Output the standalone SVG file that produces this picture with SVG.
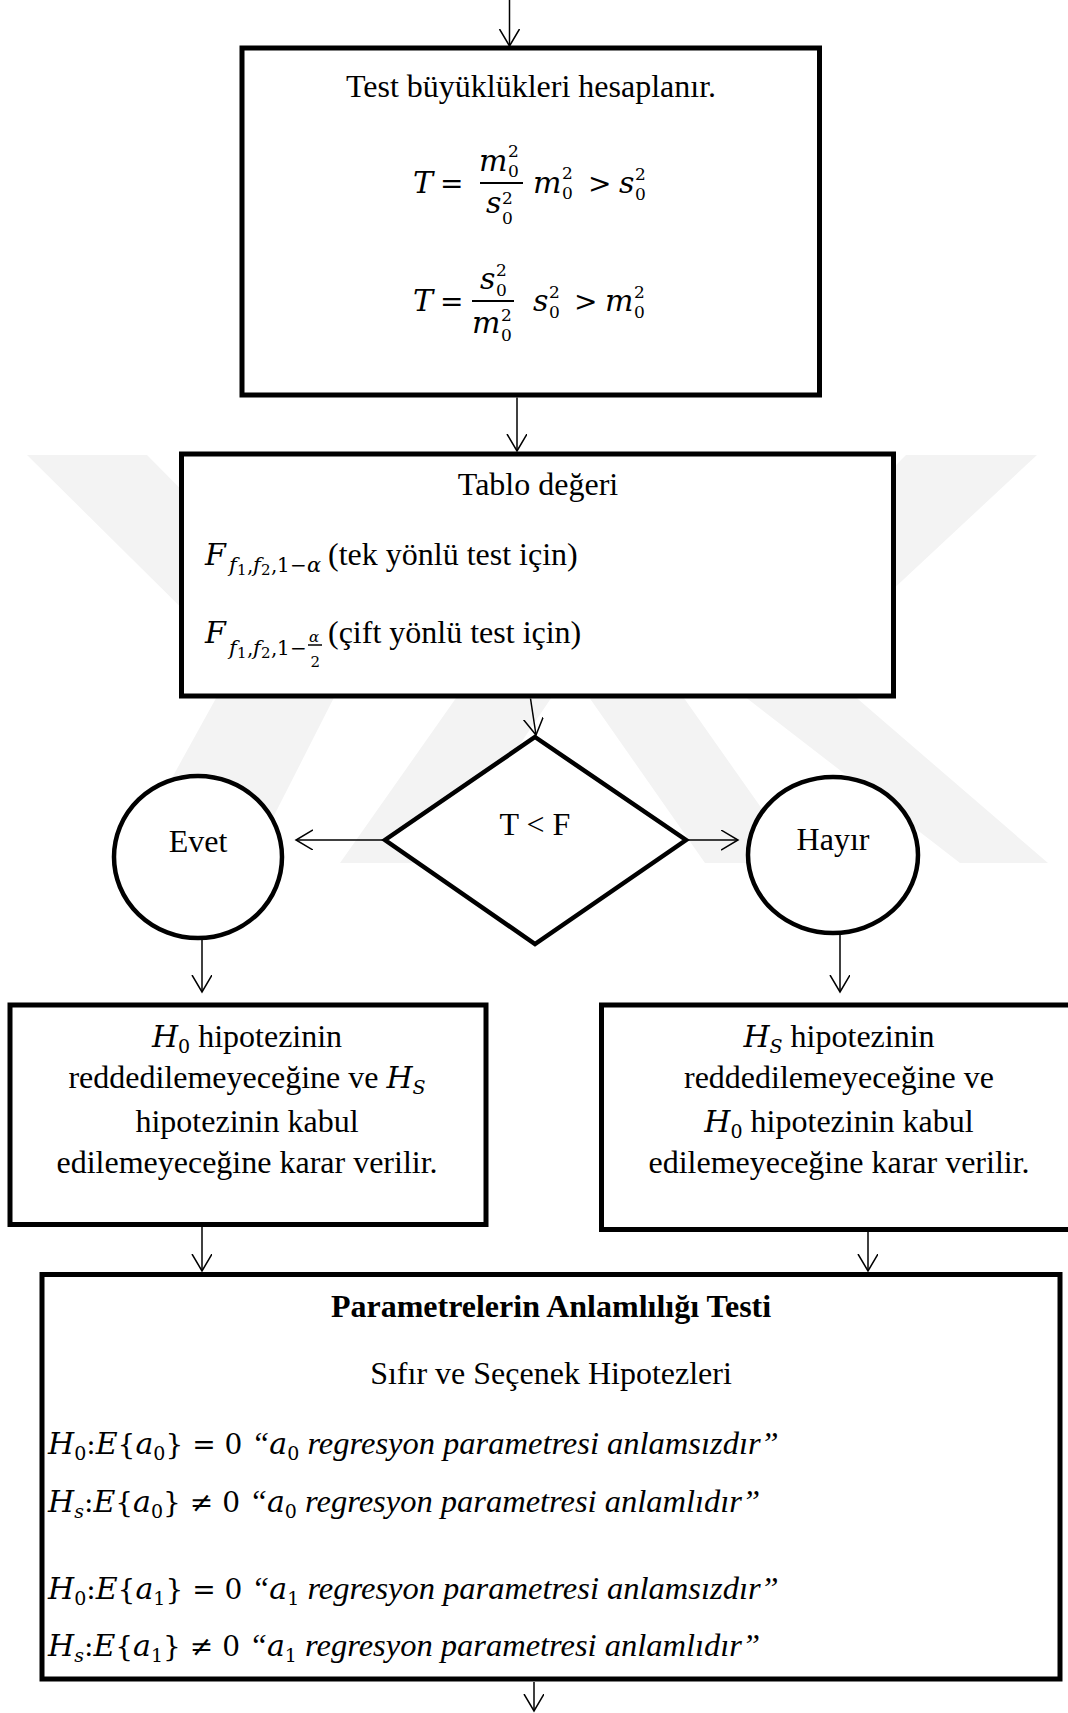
<svg xmlns="http://www.w3.org/2000/svg" width="1068" height="1713" viewBox="0 0 1068 1713">
  <style>
    .box { fill: #fff; stroke: #000; stroke-width: 5; }
    .shape { fill: #fff; stroke: #000; stroke-width: 4.5; }
    .conn { fill: none; stroke: #000; stroke-width: 1.5; marker-end: url(#ah); }
    .wm { fill: #f3f3f3; stroke: none; }
    .t { font-family: "Liberation Serif", "Times New Roman", serif; font-size: 32px; fill: #000; }
    .b { font-weight: bold; }
    .c { text-anchor: middle; }
    .ti { font-family: "Liberation Serif", "Times New Roman", serif; font-style: italic; font-size: 32.5px; }
    .mi { font-family: "DejaVu Serif", serif; font-style: italic; font-size: 30px; fill: #000; }
    .mn { font-family: "DejaVu Serif", serif; font-style: normal; font-size: 28px; fill: #000; }
    .sc { font-family: "DejaVu Serif", serif; font-style: normal; font-size: 19px; fill: #000; }
    .sp { font-family: "DejaVu Serif", serif; font-style: normal; font-size: 17px; fill: #000; }
    .si { font-family: "DejaVu Serif", serif; font-style: italic; font-size: 19px; fill: #000; }
    .ss { font-family: "DejaVu Serif", serif; font-style: normal; font-size: 20px; fill: #000; }
    .ssi { font-family: "DejaVu Serif", serif; font-style: italic; font-size: 21px; fill: #000; }
    .sss { font-family: "DejaVu Serif", serif; font-style: normal; font-size: 15px; fill: #000; }
    .ssi2 { font-family: "DejaVu Serif", serif; font-style: italic; font-size: 15px; fill: #000; }
  </style>
  <defs>
    <marker id="ah" markerUnits="userSpaceOnUse" markerWidth="20" markerHeight="22" refX="17" refY="10" orient="auto">
      <path d="M0,0 L17,10 L0,20" fill="none" stroke="#000" stroke-width="1.5"/>
    </marker>
  </defs>

  <rect x="0" y="0" width="1068" height="1713" fill="#fff"/>

  <!-- faint background emblem -->
  <g id="emblem">
    <polygon class="wm" points="27,455 147,455 352,662 250,863 125,863 236,662"/>
    <polygon class="wm" points="906,455 1037,455 815,662 1048,863 960,863 700,662"/>
    <polygon class="wm" points="340,863 525,600 615,600 800,863 705,863 570,670 440,863"/>
  </g>

  <!-- connectors -->
  <g id="connectors">
    <line class="conn" x1="509.5" y1="0" x2="509.5" y2="46"/>
    <line class="conn" x1="517" y1="397.5" x2="517" y2="451"/>
    <line class="conn" x1="530.5" y1="698.5" x2="536" y2="735"/>
    <line class="conn" x1="385" y1="840" x2="296" y2="840"/>
    <line class="conn" x1="686" y1="840" x2="738" y2="840"/>
    <line class="conn" x1="202" y1="938" x2="202" y2="992"/>
    <line class="conn" x1="840" y1="933" x2="840" y2="992"/>
    <line class="conn" x1="202" y1="1227" x2="202" y2="1271"/>
    <line class="conn" x1="868" y1="1232" x2="868" y2="1271"/>
    <line class="conn" x1="534" y1="1682" x2="534" y2="1711"/>
  </g>

  <!-- test statistics -->
  <g id="n-test">
    <rect class="box" x="242" y="48" width="577.5" height="347"/>
    <text class="t c" x="531" y="97">Test büyüklükleri hesaplanır.</text>
    <!-- T = m0^2 / s0^2  when m0^2 > s0^2 -->
    <text class="mi" x="413" y="192.5">T</text>
    <text class="mn" x="440" y="192.5">=</text>
    <text><tspan class="mi" x="479" y="171">m</tspan><tspan class="sp" x="508" y="157">2</tspan><tspan class="sp" x="508" y="177">0</tspan></text>
    <line x1="480" y1="183" x2="523" y2="183" stroke="#000" stroke-width="2"/>
    <text><tspan class="mi" x="486" y="213">s</tspan><tspan class="sp" x="502" y="204">2</tspan><tspan class="sp" x="502" y="224">0</tspan></text>
    <text><tspan class="mi" x="533" y="192.5">m</tspan><tspan class="sp" x="562" y="179">2</tspan><tspan class="sp" x="562" y="199">0</tspan><tspan class="mn" x="588" y="192.5">&gt;</tspan><tspan class="mi" x="619" y="192.5">s</tspan><tspan class="sp" x="635" y="180">2</tspan><tspan class="sp" x="635" y="200">0</tspan></text>
    <!-- T = s0^2 / m0^2  when s0^2 > m0^2 -->
    <text class="mi" x="413" y="311">T</text>
    <text class="mn" x="440" y="311">=</text>
    <text><tspan class="mi" x="480" y="288.5">s</tspan><tspan class="sp" x="496" y="276">2</tspan><tspan class="sp" x="496" y="296">0</tspan></text>
    <line x1="472" y1="301" x2="514" y2="301" stroke="#000" stroke-width="2"/>
    <text><tspan class="mi" x="472" y="332.5">m</tspan><tspan class="sp" x="501" y="321">2</tspan><tspan class="sp" x="501" y="341">0</tspan></text>
    <text><tspan class="mi" x="533" y="311">s</tspan><tspan class="sp" x="549" y="298">2</tspan><tspan class="sp" x="549" y="318">0</tspan><tspan class="mn" x="574" y="311">&gt;</tspan><tspan class="mi" x="605" y="311">m</tspan><tspan class="sp" x="634" y="298">2</tspan><tspan class="sp" x="634" y="318">0</tspan></text>
  </g>

  <!-- table value -->
  <g id="n-table">
    <rect class="box" x="181.5" y="454" width="712" height="242"/>
    <text class="t c" x="538" y="495">Tablo değeri</text>
    <text><tspan class="mi" x="205" y="565">F</tspan><tspan class="ssi" x="229" y="571.5">f</tspan><tspan class="sss" x="237" y="575">1</tspan><tspan class="ss" x="247" y="571.5">,</tspan><tspan class="ssi" x="253" y="571.5">f</tspan><tspan class="sss" x="261" y="575">2</tspan><tspan class="ss" x="271" y="571.5">,</tspan><tspan class="ss" x="277" y="571.5">1</tspan><tspan class="ss" x="290" y="571.5">−</tspan><tspan class="ssi" x="307" y="571.5">α</tspan></text>
    <text class="t" x="328" y="565">(tek yönlü test için)</text>
    <text><tspan class="mi" x="205" y="643">F</tspan><tspan class="ssi" x="229" y="655">f</tspan><tspan class="sss" x="237" y="658">1</tspan><tspan class="ss" x="247" y="655">,</tspan><tspan class="ssi" x="253" y="655">f</tspan><tspan class="sss" x="261" y="658">2</tspan><tspan class="ss" x="271" y="655">,</tspan><tspan class="ss" x="277" y="655">1</tspan><tspan class="ss" x="290" y="655">−</tspan><tspan class="ssi2" x="309" y="641.5">α</tspan><tspan class="sss" x="310.5" y="667">2</tspan></text>
    <line x1="308" y1="645" x2="322" y2="645" stroke="#000" stroke-width="1.5"/>
    <text class="t" x="328" y="643">(çift yönlü test için)</text>
  </g>

  <!-- decision -->
  <g id="n-decision">
    <polygon class="shape" points="535,737 686,840 535,944 385,840"/>
    <text class="t c" x="535" y="834.5">T &lt; F</text>
  </g>

  <g id="n-yes">
    <ellipse class="shape" cx="198" cy="857" rx="84" ry="81"/>
    <text class="t c" x="198" y="852">Evet</text>
  </g>

  <g id="n-no">
    <ellipse class="shape" cx="833" cy="855" rx="85" ry="78"/>
    <text class="t c" x="833" y="850">Hayır</text>
  </g>

  <!-- outcome when T < F -->
  <g id="n-accept-h0">
    <rect class="box" x="10" y="1005" width="476" height="219.5"/>
    <text class="t c" x="247" y="1047"><tspan class="mi">H</tspan><tspan class="sc" dy="6">0</tspan><tspan dy="-6"> hipotezinin</tspan></text>
    <text class="t c" x="247" y="1088">reddedilemeyeceğine ve <tspan class="mi">H</tspan><tspan class="si" dy="6">S</tspan></text>
    <text class="t c" x="247" y="1132">hipotezinin kabul</text>
    <text class="t c" x="247" y="1173">edilemeyeceğine karar verilir.</text>
  </g>

  <!-- outcome when T >= F -->
  <g id="n-accept-hs">
    <rect class="box" x="601.5" y="1005" width="470" height="224.5"/>
    <text class="t c" x="839" y="1047"><tspan class="mi">H</tspan><tspan class="si" dy="6">S</tspan><tspan dy="-6"> hipotezinin</tspan></text>
    <text class="t c" x="839" y="1088">reddedilemeyeceğine ve</text>
    <text class="t c" x="839" y="1132"><tspan class="mi">H</tspan><tspan class="sc" dy="6">0</tspan><tspan dy="-6"> hipotezinin kabul</tspan></text>
    <text class="t c" x="839" y="1173">edilemeyeceğine karar verilir.</text>
  </g>

  <!-- significance of parameters -->
  <g id="n-params">
    <rect class="box" x="42" y="1274.5" width="1018" height="404.5"/>
    <text class="t b c" x="551" y="1317">Parametrelerin Anlamlılığı Testi</text>
    <text class="t c" x="551" y="1384">Sıfır ve Seçenek Hipotezleri</text>
    <text class="t" x="48" y="1454"><tspan class="mi">H</tspan><tspan class="sc" dy="6">0</tspan><tspan class="mn" dy="-6">:</tspan><tspan class="mi">E</tspan><tspan class="mn">{</tspan><tspan class="mi">a</tspan><tspan class="sc" dy="6">0</tspan><tspan class="mn" dy="-6">} = 0 </tspan><tspan class="ti">“</tspan><tspan class="mi">a</tspan><tspan class="sc" dy="6">0</tspan><tspan class="ti" dy="-6"> regresyon parametresi anlamsızdır”</tspan></text>
    <text class="t" x="48" y="1512"><tspan class="mi">H</tspan><tspan class="si" dy="6">s</tspan><tspan class="mn" dy="-6">:</tspan><tspan class="mi">E</tspan><tspan class="mn">{</tspan><tspan class="mi">a</tspan><tspan class="sc" dy="6">0</tspan><tspan class="mn" dy="-6">} ≠ 0 </tspan><tspan class="ti">“</tspan><tspan class="mi">a</tspan><tspan class="sc" dy="6">0</tspan><tspan class="ti" dy="-6"> regresyon parametresi anlamlıdır”</tspan></text>
    <text class="t" x="48" y="1599"><tspan class="mi">H</tspan><tspan class="sc" dy="6">0</tspan><tspan class="mn" dy="-6">:</tspan><tspan class="mi">E</tspan><tspan class="mn">{</tspan><tspan class="mi">a</tspan><tspan class="sc" dy="6">1</tspan><tspan class="mn" dy="-6">} = 0 </tspan><tspan class="ti">“</tspan><tspan class="mi">a</tspan><tspan class="sc" dy="6">1</tspan><tspan class="ti" dy="-6"> regresyon parametresi anlamsızdır”</tspan></text>
    <text class="t" x="48" y="1656"><tspan class="mi">H</tspan><tspan class="si" dy="6">s</tspan><tspan class="mn" dy="-6">:</tspan><tspan class="mi">E</tspan><tspan class="mn">{</tspan><tspan class="mi">a</tspan><tspan class="sc" dy="6">1</tspan><tspan class="mn" dy="-6">} ≠ 0 </tspan><tspan class="ti">“</tspan><tspan class="mi">a</tspan><tspan class="sc" dy="6">1</tspan><tspan class="ti" dy="-6"> regresyon parametresi anlamlıdır”</tspan></text>
  </g>
</svg>
